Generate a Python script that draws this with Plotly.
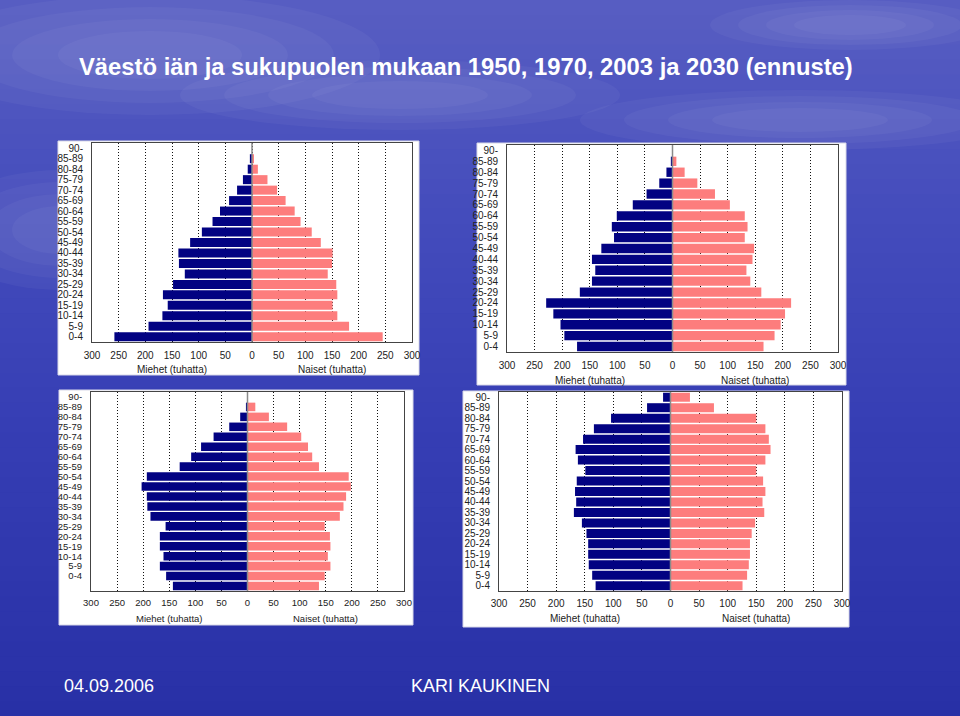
import plotly.graph_objects as go

W, H = 960, 716

# age groups, bottom-up
AGES = ["0-4", "5-9", "10-14", "15-19", "20-24", "25-29", "30-34", "35-39", "40-44",
        "45-49", "50-54", "55-59", "60-64", "65-69", "70-74", "75-79", "80-84", "85-89", "90-"]

# thousands (0-4 first)
MEN_1950 = [258, 194, 168, 158, 167, 148, 126, 137, 138, 116, 94, 74, 60, 43, 28, 17, 8, 4, None]
WOMEN_1950 = [245, 182, 160, 151, 160, 158, 142, 150, 151, 129, 112, 91, 80, 63, 47, 29, 11, 3, None]
MEN_1970 = [173, 196, 203, 216, 229, 168, 146, 140, 146, 129, 106, 110, 101, 72, 47, 24, 11, 3, None]
WOMEN_1970 = [165, 185, 196, 204, 215, 161, 141, 134, 145, 148, 131, 136, 131, 104, 77, 45, 22, 7, None]
MEN_2003 = [143, 156, 168, 161, 168, 168, 157, 186, 192, 193, 203, 193, 130, 108, 89, 65, 35, 14, 3]
WOMEN_2003 = [137, 148, 159, 154, 159, 158, 148, 177, 184, 189, 198, 194, 137, 124, 116, 103, 76, 41, 15]
MEN_2030 = [131, 137, 143, 144, 144, 147, 155, 169, 165, 167, 164, 149, 162, 166, 153, 134, 104, 41, 13]
WOMEN_2030 = [126, 134, 137, 139, 139, 142, 148, 164, 161, 166, 162, 150, 166, 175, 172, 166, 150, 76, 34]

XTICKS = [-300, -250, -200, -150, -100, -50, 0, 50, 100, 150, 200, 250, 300]
XTICKTEXT = [str(abs(v)) for v in XTICKS]

TITLE = "Väestö iän ja sukupuolen mukaan 1950, 1970, 2003 ja 2030 (ennuste)"
DATE = "04.09.2006"
AUTHOR = "KARI KAUKINEN"

NAVY = "#020282"
PINK = "#fd7d7d"
FONT = "Liberation Sans, Arial, sans-serif"


def px(x):
    return x / W


def py(y):
    return 1 - y / H


# panel layout in pixels: plot box, white card, y-range rows, label shift, font size
panels = [
    dict(men=MEN_1950, women=WOMEN_1950, box=(92, 412, 143, 342), card=(58, 419, 141, 375),
         rows=19, shift=0, tick_y=353, title_y=369, fs=10),
    dict(men=MEN_1970, women=WOMEN_1970, box=(507, 838, 145, 352), card=(477, 846, 143, 385),
         rows=19, shift=0, tick_y=363, title_y=380, fs=10),
    dict(men=MEN_2003, women=WOMEN_2003, box=(91, 404, 392, 591), card=(59, 413, 390, 625),
         rows=20, shift=1, tick_y=601, title_y=618, fs=9.5),
    dict(men=MEN_2030, women=WOMEN_2030, box=(499, 842, 392, 591), card=(463, 849, 391, 627),
         rows=19, shift=0, tick_y=601, title_y=618, fs=10),
]

fig = go.Figure()
shapes = []
annotations = []

# background: vertical blue gradient made of thin bands
stops = [(0.0, (88, 94, 194)), (0.3, (68, 76, 188)), (0.6, (54, 62, 180)), (1.0, (40, 48, 166))]


def grad(t):
    for (t0, c0), (t1, c1) in zip(stops[:-1], stops[1:]):
        if t0 <= t <= t1:
            f = (t - t0) / (t1 - t0)
            return "rgb(%d,%d,%d)" % tuple(round(a + (b - a) * f) for a, b in zip(c0, c1))
    return "rgb(%d,%d,%d)" % stops[-1][1]


NB = 48
for i in range(NB):
    y0 = H * i / NB
    y1 = H * (i + 1) / NB + 1
    shapes.append(dict(type="rect", xref="paper", yref="paper", x0=0, x1=1,
                       y0=py(y1), y1=py(y0), fillcolor=grad((i + 0.5) / NB),
                       line=dict(width=0), layer="below"))

# soft clouds in the sky: stacked faint ellipses so the edges fade out
for (cx, cy, rx, ry) in [(150, 55, 230, 60), (400, 95, 220, 35), (800, 120, 220, 30),
                         (850, 25, 140, 25), (60, 230, 120, 60)]:
    for s in (1.0, 0.8, 0.6, 0.4):
        shapes.append(dict(type="circle", xref="paper", yref="paper",
                           x0=px(cx - rx * s), x1=px(cx + rx * s),
                           y0=py(cy + ry * s), y1=py(cy - ry * s), fillcolor="white",
                           opacity=0.04, line=dict(width=0), layer="below"))

for k, p in enumerate(panels):
    n = "" if k == 0 else str(k + 1)
    xa, ya = "x" + n, "y" + n
    l, r, t, b = p["box"]
    cl, cr, ct, cb = p["card"]

    shapes.append(dict(type="rect", xref="paper", yref="paper", x0=px(cl), x1=px(cr),
                       y0=py(cb), y1=py(ct), fillcolor="white",
                       line=dict(color="#d8d8e8", width=1), layer="below"))

    ypos = list(range(len(AGES)))
    fig.add_trace(go.Bar(x=[-v if v is not None else None for v in p["men"]], y=ypos,
                         orientation="h", marker=dict(color=NAVY, line=dict(width=0)),
                         xaxis=xa, yaxis=ya, showlegend=False,
                         customdata=AGES, hovertemplate="Miehet %{customdata}<extra></extra>"))
    fig.add_trace(go.Bar(x=p["women"], y=ypos, orientation="h",
                         marker=dict(color=PINK, line=dict(width=0)),
                         xaxis=xa, yaxis=ya, showlegend=False,
                         customdata=AGES, hovertemplate="Naiset %{customdata}<extra></extra>"))

    fig.layout["xaxis" + n] = dict(
        domain=[px(l), px(r)], anchor=ya, range=[-300, 300], tickvals=XTICKS, ticktext=XTICKTEXT,
        showgrid=True, gridcolor="#111111", griddash="1px,2px", gridwidth=1, zeroline=False,
        showline=True, linecolor="#444444", linewidth=1, mirror=True, ticks="",
        tickfont=dict(family=FONT, size=p["fs"], color="#222222"), fixedrange=True,
        automargin=False, ticklabelstandoff=int(p["tick_y"] - b - 7),
    )
    fig.layout["yaxis" + n] = dict(
        domain=[py(b), py(t)], anchor=xa, range=[-0.5, p["rows"] - 0.5],
        tickvals=[i + p["shift"] for i in ypos], ticktext=AGES, showgrid=False, zeroline=False,
        showline=True, linecolor="#444444", linewidth=1, mirror=True, ticks="",
        tickfont=dict(family=FONT, size=p["fs"], color="#222222"), fixedrange=True,
        automargin=False, ticklabelstandoff=6,
    )
    # centre line drawn over the bars
    shapes.append(dict(type="line", xref=xa, yref=ya + " domain", x0=0, x1=0, y0=0, y1=1,
                       line=dict(color="#8a8a8a", width=1.5), layer="above"))

    for xf, txt in [(0.25, "Miehet (tuhatta)"), (0.75, "Naiset (tuhatta)")]:
        annotations.append(dict(xref=xa + " domain", yref="paper", x=xf, y=py(p["title_y"]),
                                text=txt, showarrow=False, xanchor="center", yanchor="middle",
                                font=dict(family=FONT, size=p["fs"], color="#222222")))

annotations.append(dict(xref="paper", yref="paper", x=px(77), y=py(67), text="<b>" + TITLE + "</b>",
                        showarrow=False, xanchor="left", yanchor="middle",
                        font=dict(family=FONT, size=23.8, color="white")))
annotations.append(dict(xref="paper", yref="paper", x=px(62), y=py(686), text=DATE,
                        showarrow=False, xanchor="left", yanchor="middle",
                        font=dict(family=FONT, size=18, color="white")))
annotations.append(dict(xref="paper", yref="paper", x=px(409), y=py(686), text=AUTHOR,
                        showarrow=False, xanchor="left", yanchor="middle",
                        font=dict(family=FONT, size=18, color="white")))

fig.update_layout(
    width=W, height=H, margin=dict(l=0, r=0, t=0, b=0),
    paper_bgcolor="#3a42b4", plot_bgcolor="white",
    barmode="overlay", bargap=0.14,
    shapes=shapes, annotations=annotations,
    font=dict(family=FONT),
)

# page body has an 8px default margin; remove it so the slide fills the window
fig.write_html("out.html", config={"displayModeBar": False},
               post_script="document.body.style.margin='0';document.body.style.overflow='hidden';")
